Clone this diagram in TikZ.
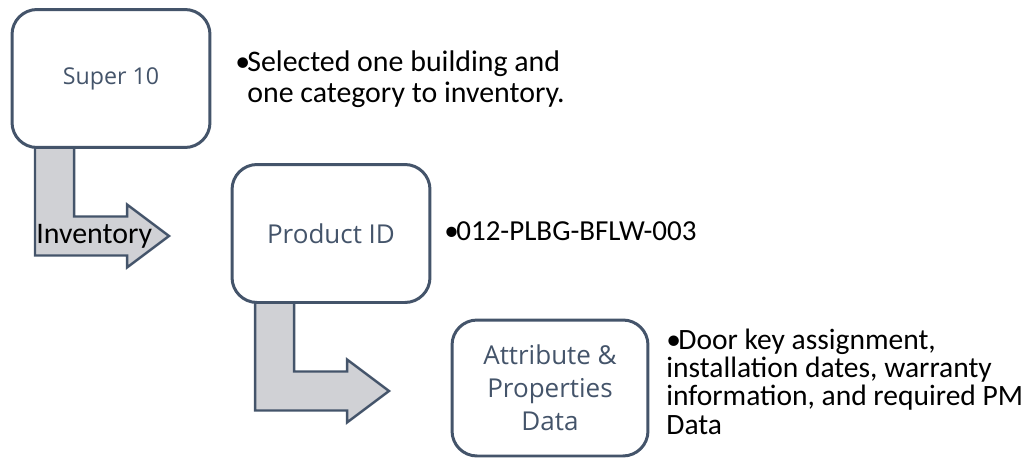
\documentclass[tikz,border=0pt]{standalone}
\usepackage{fontspec}
\setmainfont{Carlito}
\newfontfamily\boxfont{Open Sans}
\usepackage{xcolor}
\usepackage{tikz}
\usetikzlibrary{calc}
\usetikzlibrary{backgrounds}

\definecolor{slate}{HTML}{44546A}
\definecolor{elbowgray}{HTML}{D0D1D5}

% bullet and hanging indent for the notes
\newcommand{\bul}{\makebox[0.24cm][l]{\textbullet}}
\newcommand{\ind}{\hspace*{0.24cm}}

\begin{document}
\begin{tikzpicture}[x=0.02cm,y=-0.02cm,
  box/.style={draw=slate,line width=1.7pt,rounded corners=0.5cm,fill=white,
    minimum width=3.96cm,minimum height=2.76cm,inner sep=0pt,outer sep=0pt,
    text=slate,font=\boxfont\fontsize{14.8}{18.7}\selectfont,align=center},
  elbow/.style={draw=slate,fill=elbowgray,line width=1.4pt,line join=miter},
  note/.style={anchor=base west,align=left,inner sep=0pt,
    font=\fontsize{17}{17.4}\selectfont}]
\useasboundingbox (0,0) rectangle (1027,457);

% the three steps
\node[box,font=\boxfont\fontsize{13.2}{15}\selectfont] (super) at (111,78.5) {Super 10};
\node[box] (prod) at (331,233.5) {Product ID};
\node[box,minimum width=3.92cm,minimum height=2.72cm] (attr) at (550,388) {Attribute \&\\Properties\\Data};

% bent arrows out of the bottom of each box
\begin{scope}[on background layer]
\foreach \from in {super,prod}
   \draw[elbow,shift={(\from.south west)}] (23,-10) -- (23,108) -- (115,108) -- (115,120)
      -- (157,88.5) -- (115,57) -- (115,69) -- (62,69) -- (62,-10) -- cycle;
\end{scope}
\node[anchor=west,inner sep=0pt,font=\fontsize{17}{18}\selectfont] (inv) at (36,236) {Inventory};

% notes (base is the last line)
\node[note] (n1) at (235,102) {\bul Selected one building and\\\ind one category to inventory.};
\node[note,font=\fontsize{16.5}{18}\selectfont] (n2) at (444,240) {\bul 012-PLBG-BFLW-003};
\node[note,font=\fontsize{16.8}{16}\selectfont] (n3) at (666,434)
   {\bul Door key assignment,\\installation dates, warranty\\information, and required PM\\Data};
\end{tikzpicture}
\end{document}
